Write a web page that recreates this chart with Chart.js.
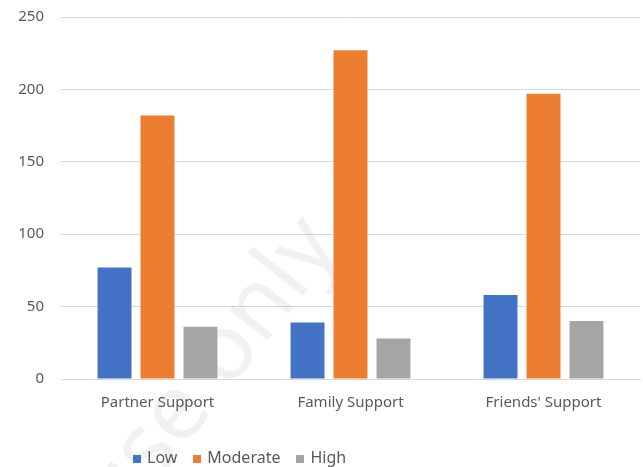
<!DOCTYPE html>
<html>
<head>
<meta charset="utf-8">
<script src="https://cdn.jsdelivr.net/npm/chart.js@4/dist/chart.umd.min.js"></script>
<style>
  body { margin: 0; background: #fff; }
  #wrap { position: relative; width: 643px; height: 467px; }
  #legend { position: absolute; left: 133px; top: 446px; font: 16px "Noto Sans", sans-serif; color: #595959; white-space: nowrap; }
  #legend span.item { margin-right: 16px; }
  #legend span.box { display: inline-block; width: 8px; height: 8px; margin-right: 6px; }
</style>
</head>
<body>
<div id="wrap">
  <canvas id="chart_canvas" width="643" height="467"></canvas>
  <div id="legend"></div>
</div>
<script>
var categories = ["Partner Support", "Family Support", "Friends' Support"];
var lowValues = [77, 39, 58];
var moderateValues = [182, 227, 197];
var highValues = [36, 28, 40];
var seriesNames = ["Low", "Moderate", "High"];
var seriesColors = ["#4472C4", "#ED7D31", "#A5A5A5"];

// faint diagonal watermark behind the bars
var watermark = {
    id: 'watermark',
    beforeDatasetsDraw: function(chart) {
        var c = chart.ctx;
        c.save();
        c.translate(210, 372);
        c.rotate(-52 * Math.PI / 180);
        c.font = '92px "Noto Sans", sans-serif';
        c.fillStyle = 'rgba(0,0,0,0.055)';
        c.textAlign = 'center';
        c.textBaseline = 'middle';
        c.fillText('use only', 0, 0);
        c.restore();
    }
};

var ctx = document.getElementById('chart_canvas').getContext('2d');
var allValues = [lowValues, moderateValues, highValues];
var datasets = [];
for (var i = 0; i < seriesNames.length; i++) {
    datasets.push({
        label: seriesNames[i],
        data: allValues[i],
        backgroundColor: seriesColors[i],
        barPercentage: 0.79,
        categoryPercentage: 0.668
    });
}

var myChart = new Chart(ctx, {
    type: 'bar',
    data: { labels: categories, datasets: datasets },
    plugins: [watermark],
    options: {
        responsive: false,
        animation: false,
        layout: { padding: { top: 17, right: 3, left: 0, bottom: 40 } },
        plugins: { legend: { display: false }, tooltip: { enabled: false } },
        scales: {
            x: {
                grid: { display: false, drawTicks: false },
                border: { color: '#d9d9d9' },
                ticks: { color: '#595959', font: { family: 'Noto Sans', size: 15 }, padding: 15 }
            },
            y: {
                min: 0, max: 250,
                afterFit: function(scale) {
                    scale.width = 61;
                    scale.paddingTop = 0;
                    scale.paddingBottom = 0;
                },
                grid: { color: '#d9d9d9', drawTicks: false },
                border: { display: false },
                ticks: { stepSize: 50, color: '#595959', font: { family: 'Noto Sans', size: 15 }, padding: 17 }
            }
        }
    }
});

var legend = document.getElementById('legend');
for (dataset of myChart.data.datasets) {
    legend.innerHTML += '<span class="item"><span class="box" style="background:' + dataset.backgroundColor + '"></span>' + dataset.label + '</span>';
}
</script>
</body>
</html>
